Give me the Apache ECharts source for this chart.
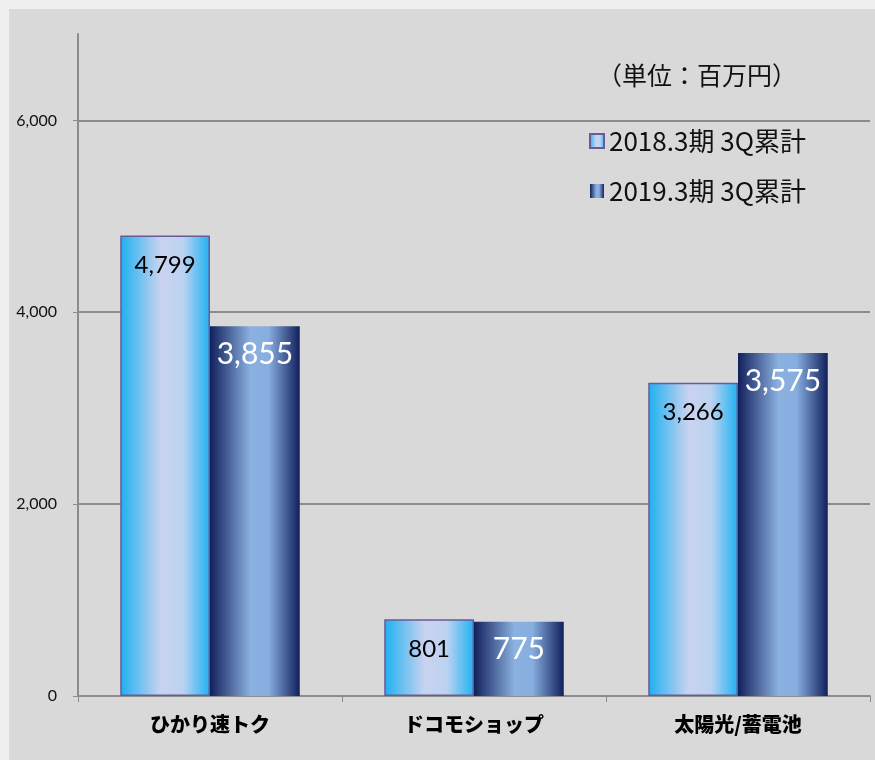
<!DOCTYPE html>
<html><head><meta charset="utf-8">
<script src="https://cdn.jsdelivr.net/npm/echarts@6/dist/echarts.min.js"></script>
<style>html,body{margin:0;padding:0;background:#f0f0f0;}#c{width:875px;height:760px;}</style>
</head><body><div id="c"></div>
<script>
const categories = ['ひかり速トク', 'ドコモショップ', '太陽光/蓄電池'];
const seriesNames = ['2018.3期 3Q累計', '2019.3期 3Q累計'];
const values2018 = [4799, 801, 3266];
const values2019 = [3855, 775, 3575];
const yTicks = [0, 2000, 4000, 6000];
const unitText = '（単位：百万円）';

const numFont = 'Lato, "Noto Sans CJK JP", sans-serif';
const jpFont = '"Noto Sans CJK JP", sans-serif';
const grad1 = {type:'linear',x:0,y:0,x2:1,y2:0,colorStops:[
  {offset:0,color:'#1db0f2'},{offset:0.45,color:'#c9d3ef'},{offset:0.7,color:'#bcd2f1'},{offset:1,color:'#1db2f2'}]};
const grad2 = {type:'linear',x:0,y:0,x2:1,y2:0,colorStops:[
  {offset:0,color:'#11205c'},{offset:0.45,color:'#8bb1e0'},{offset:0.65,color:'#88aee0'},{offset:1,color:'#11205c'}]};
const fmt = v => v.toLocaleString('en-US');

const chart = echarts.init(document.getElementById('c'), null, {renderer:'canvas'});
chart.setOption({
  backgroundColor: '#f0f0f0',
  animation: false,
  graphic: [{type:'rect', z:-10, zlevel:0, shape:{x:9,y:9,width:866,height:751}, style:{fill:'#d9d9d9'}}],
  title: {text: unitText, left: 592, top: 58, textStyle:{fontFamily: jpFont, fontSize: 25, fontWeight:'normal', color:'#111'}},
  legend: {orient:'vertical', left: 584, top: 121, itemWidth: 14, itemHeight: 14, itemGap: 20,
    icon: 'rect', textStyle:{fontFamily: jpFont, fontSize: 26, lineHeight: 30, color:'#111'}, data: seriesNames},
  grid: {left: 78, right: 5, top: 34, bottom: 64, containLabel:false},
  xAxis: {type:'category', data: categories,
    axisLine:{lineStyle:{color:'#8c8c8c', width:2}},
    axisTick:{show:true, length:6, lineStyle:{color:'#8c8c8c'}},
    axisLabel:{fontFamily: jpFont, fontSize: 20, fontWeight: 900, color:'#000', margin: 18}},
  yAxis: {type:'value', min:0, max:6900, interval:2000,
    axisLine:{show:true, lineStyle:{color:'#8c8c8c', width:2}},
    axisTick:{show:true, length:5, lineStyle:{color:'#8c8c8c'}, customValues: yTicks},
    axisLabel:{fontFamily: numFont, fontSize: 16, color:'#111', margin: 21, customValues: yTicks,
      formatter: v => yTicks.includes(v) ? fmt(v) : ''},
    splitLine:{show:true, lineStyle:{color:['#8c8c8c','#8c8c8c','#8c8c8c','#8c8c8c','rgba(0,0,0,0)'], width:2}}},
  series: [
    {name: seriesNames[0], type:'bar', data: values2018, barGap: '0%', barCategoryGap: '32%',
      itemStyle:{color: grad1, borderColor:'#6b5a98', borderWidth:1.5},
      label:{show:true, position:'insideTop', distance:18, formatter: p => fmt(p.value),
        fontFamily: numFont, fontSize: 24, color:'#000'}},
    {name: seriesNames[1], type:'bar', data: values2019, barGap: '0%', barCategoryGap: '32%',
      itemStyle:{color: grad2},
      label:{show:true, position:'insideTop', distance:13, formatter: p => fmt(p.value),
        fontFamily: numFont, fontSize: 30, color:'#fff'}}
  ]
});
</script></body></html>
